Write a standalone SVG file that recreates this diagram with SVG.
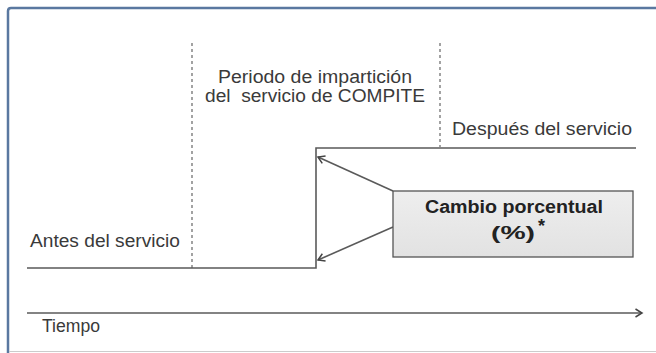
<svg xmlns="http://www.w3.org/2000/svg" width="656" height="353" viewBox="0 0 656 353">
<defs>
<style>
.t{font-family:"Liberation Sans",Arial,sans-serif;font-size:18px;fill:#3a3a3a}
.b{font-family:"Liberation Sans",Arial,sans-serif;font-size:18px;font-weight:bold;fill:#222}
.ln{stroke:#5a5a5a;stroke-width:1.6;fill:none}
.dash{stroke:#666;stroke-width:1.2;stroke-dasharray:3 3;fill:none}
</style>
<marker id="open" markerWidth="10" markerHeight="10" refX="8" refY="5" orient="auto" markerUnits="userSpaceOnUse">
<path d="M1.5,1 L8,5 L1.5,9" fill="none" stroke="#444" stroke-width="1.5"/>
</marker>
<linearGradient id="g" x1="0" y1="0" x2="0" y2="1">
<stop offset="0" stop-color="#eeeeee"/><stop offset="1" stop-color="#e2e2e2"/>
</linearGradient>
</defs>
<rect x="0" y="0" width="656" height="353" fill="#fff"/>
<path d="M8,353 V11 Q8,8 11,8 H656" fill="none" stroke="#5a78a0" stroke-width="2.5"/>
<line x1="9" y1="351.5" x2="656" y2="351.5" stroke="#ccc" stroke-width="1"/>
<g id="connectors">
<line class="dash" x1="192" y1="43" x2="192" y2="268"/>
<line class="dash" x1="440" y1="43" x2="440" y2="147"/>
<path class="ln" d="M27,268 H316 V148 H636"/>
<line class="ln" x1="393" y1="191" x2="318" y2="157" marker-end="url(#open)"/>
<line class="ln" x1="393" y1="227" x2="318" y2="260" marker-end="url(#open)"/>
<line class="ln" x1="27" y1="313" x2="642" y2="313" marker-end="url(#open)"/>
</g>
<g id="periodo">
<text class="t" x="218" y="83" textLength="194" lengthAdjust="spacingAndGlyphs">Periodo de impartición</text>
<text class="t" x="205" y="102" textLength="220" lengthAdjust="spacingAndGlyphs" xml:space="preserve">del  servicio de COMPITE</text>
</g>
<g id="despues"><text class="t" x="452" y="135" textLength="180" lengthAdjust="spacingAndGlyphs">Después del servicio</text></g>
<g id="antes"><text class="t" x="30" y="247" textLength="150" lengthAdjust="spacingAndGlyphs">Antes del servicio</text></g>
<g id="tiempo"><text class="t" x="42" y="332" font-size="17" textLength="58" lengthAdjust="spacingAndGlyphs">Tiempo</text></g>
<g id="cambio">
<rect x="393" y="191" width="240" height="66" fill="url(#g)" stroke="#555" stroke-width="1.3"/>
<text class="b" x="425" y="213" textLength="178" lengthAdjust="spacingAndGlyphs">Cambio porcentual</text>
<text class="b" x="491" y="239" font-size="14" textLength="44" lengthAdjust="spacingAndGlyphs">(%)</text>
<text class="b" x="538" y="232" font-size="11">*</text>
</g>
</svg>
